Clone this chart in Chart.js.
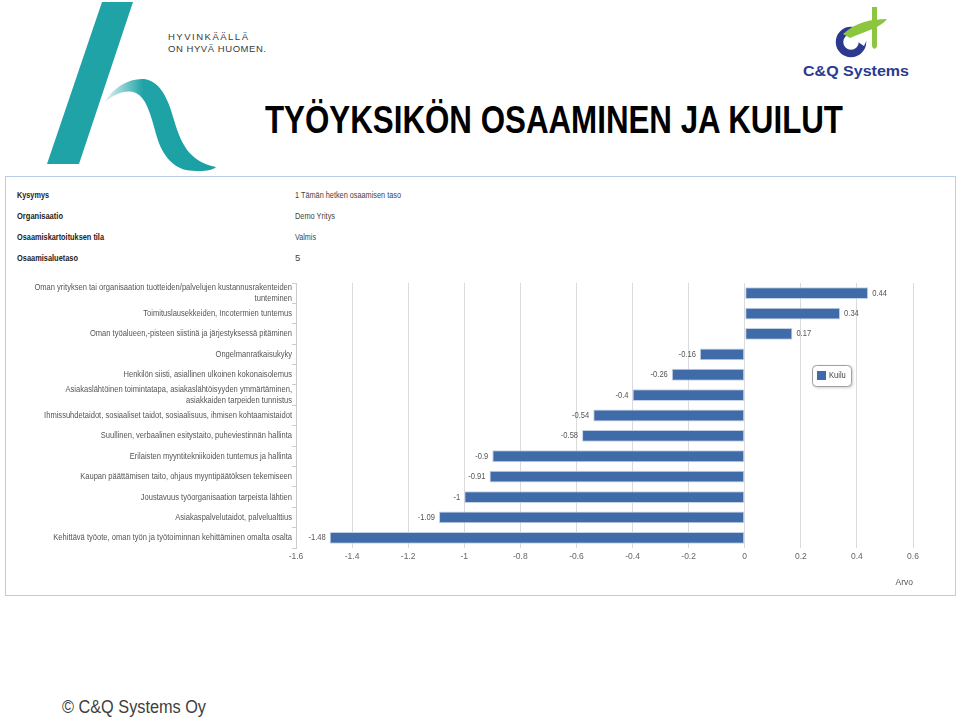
<!DOCTYPE html>
<html>
<head>
<meta charset="utf-8">
<script src="https://cdn.jsdelivr.net/npm/chart.js@4.4.1/dist/chart.umd.min.js"></script>
<style>
  body { margin: 0; width: 960px; height: 720px; background: #fff; position: relative; overflow: hidden; }
  #page { position: absolute; left: 0; top: 0; }
  #chartBox { position: absolute; left: 8px; top: 270px; width: 946px; height: 322px; }
</style>
</head>
<body>
<svg id="page" width="960" height="720" font-family="Liberation Sans, Arial, sans-serif">
  <defs>
    <linearGradient id="hook" x1="0" y1="0" x2="1" y2="0">
      <stop offset="0" stop-color="#e8f6f6"/>
      <stop offset="0.35" stop-color="#1fa3a7"/>
      <stop offset="1" stop-color="#1a9fa3"/>
    </linearGradient>
  </defs>
  <!-- kaupungin logo -->
  <polygon points="102,2 133,2 79,164 47,164" fill="#1fa3a7"/>
  <path d="M104,103 C114,86 130,78 144,79 C160,81 168,98 174,120 C182,148 192,162 216,167 C212,171 200,172 186,170 C170,166 161,152 156,134 C150,112 146,98 136,93 C126,89 114,94 104,103 Z" fill="url(#hook)"/>
  <text x="168" y="40" font-size="9.5" fill="#3a3a3a" textLength="80" lengthAdjust="spacing">HYVINKÄÄLLÄ</text>
  <text x="168" y="52" font-size="9.5" fill="#3a3a3a" textLength="98" lengthAdjust="spacing">ON HYVÄ HUOMEN.</text>

  <!-- C&Q logo -->
  <circle cx="851" cy="42" r="11.5" fill="none" stroke="#2b3a8f" stroke-width="7.5"/>
  <path d="M852,27 L870,33 L864,46 L855,40 Z" fill="#fff"/>
  <path d="M872,7 L877,7 L877,45 C877,50 872,50 872,45 Z" fill="#8cc63f"/>
  <path d="M843,34 C856,22 872,19 887,19 C882,27 866,31 850,38 Z" fill="#8cc63f"/>
  <text x="803" y="76" font-size="15" font-weight="bold" fill="#2b3a8f" textLength="106" lengthAdjust="spacingAndGlyphs">C&amp;Q Systems</text>

  <text x="265" y="133" font-size="38" font-weight="bold" fill="#000" textLength="578" lengthAdjust="spacingAndGlyphs">TYÖYKSIKÖN OSAAMINEN JA KUILUT</text>

  <!-- raportin paneeli -->
  <rect x="5.5" y="176.5" width="950" height="419" fill="#fff" stroke="#b9cde5"/>
  <g font-size="9.5" fill="#222">
    <text x="17" y="198" font-weight="bold" textLength="32" lengthAdjust="spacingAndGlyphs">Kysymys</text>
    <text x="17" y="219" font-weight="bold" textLength="46" lengthAdjust="spacingAndGlyphs">Organisaatio</text>
    <text x="17" y="240" font-weight="bold" textLength="87" lengthAdjust="spacingAndGlyphs">Osaamiskartoituksen tila</text>
    <text x="17" y="261" font-weight="bold" textLength="61" lengthAdjust="spacingAndGlyphs">Osaamisaluetaso</text>
    <text x="295" y="198" fill="#444" textLength="106" lengthAdjust="spacingAndGlyphs">1 Tämän hetken osaamisen taso</text>
    <text x="295" y="219" fill="#444" textLength="40" lengthAdjust="spacingAndGlyphs">Demo Yritys</text>
    <text x="295" y="240" fill="#444" textLength="21" lengthAdjust="spacingAndGlyphs">Valmis</text>
    <text x="295" y="261" fill="#444">5</text>
  </g>

  <text x="62" y="713" font-size="18" fill="#404040" textLength="144" lengthAdjust="spacingAndGlyphs">© C&amp;Q Systems Oy</text>
</svg>
<div id="chartBox"><canvas id="chart"></canvas></div>
<script>
const categories = [
  ["Oman yrityksen tai organisaation tuotteiden/palvelujen kustannusrakenteiden", "tunteminen"],
  "Toimituslausekkeiden, Incotermien tuntemus",
  "Oman työalueen,-pisteen siistinä ja järjestyksessä pitäminen",
  "Ongelmanratkaisukyky",
  "Henkilön siisti, asiallinen ulkoinen kokonaisolemus",
  ["Asiakaslähtöinen toimintatapa, asiakaslähtöisyyden ymmärtäminen,", "asiakkaiden tarpeiden tunnistus"],
  "Ihmissuhdetaidot, sosiaaliset taidot, sosiaalisuus, ihmisen kohtaamistaidot",
  "Suullinen, verbaalinen esitystaito, puheviestinnän hallinta",
  "Erilaisten myyntitekniikoiden tuntemus ja hallinta",
  "Kaupan päättämisen taito, ohjaus myyntipäätöksen tekemiseen",
  "Joustavuus työorganisaation tarpeista lähtien",
  "Asiakaspalvelutaidot, palvelualttius",
  "Kehittävä työote, oman työn ja työtoiminnan kehittäminen omalta osalta",
];
const kuilu = [0.44, 0.34, 0.17, -0.16, -0.26, -0.4, -0.54, -0.58, -0.9, -0.91, -1, -1.09, -1.48];
const xTicks = [-1.6, -1.4, -1.2, -1, -0.8, -0.6, -0.4, -0.2, 0, 0.2, 0.4, 0.6];
const seriesName = "Kuilu";
const axisTitle = "Arvo";

const barBlue = "#3f6ba8";
const fontFamily = "'Liberation Sans', Arial, sans-serif";
const labelFont = { family: fontFamily, size: 8.5 };

// kavennettu teksti (alkuperäinen kuva on vaakasuunnassa puristettu)
const squeeze = 0.84;
function narrowText(ctx, text, x, y, align) {
  ctx.save();
  ctx.translate(x, y);
  ctx.scale(squeeze, 1);
  ctx.textAlign = align;
  ctx.fillText(text, 0, 0);
  ctx.restore();
}

// kategoriat oikealle tasattuina y-akselin viereen
const categoryLabels = {
  id: "categoryLabels",
  afterDraw(chart) {
    const ctx = chart.ctx;
    const y = chart.scales.y;
    ctx.save();
    ctx.font = "9px " + fontFamily;
    ctx.fillStyle = "#555";
    ctx.textBaseline = "middle";
    categories.forEach((lab, i) => {
      const lines = Array.isArray(lab) ? lab : [lab];
      const cy = y.getPixelForValue(i);
      const lh = 11;
      lines.forEach((line, j) => {
        const ly = cy + (j - (lines.length - 1) / 2) * lh;
        narrowText(ctx, line, chart.chartArea.left - 4, ly, "right");
      });
    });
    ctx.restore();
  },
};

// arvot palkkien päähän
const valueLabels = {
  id: "valueLabels",
  afterDatasetsDraw(chart) {
    const ctx = chart.ctx;
    const meta = chart.getDatasetMeta(0);
    ctx.save();
    ctx.font = "9px " + fontFamily;
    ctx.fillStyle = "#555";
    ctx.textBaseline = "middle";
    meta.data.forEach((bar, i) => {
      const v = kuilu[i];
      if (v >= 0) narrowText(ctx, String(v), bar.x + 4, bar.y, "left");
      else narrowText(ctx, String(v), bar.x - 4, bar.y, "right");
    });
    ctx.restore();
  },
};

// selite kaavion sisällä
const boxLegend = {
  id: "boxLegend",
  afterDraw(chart) {
    const ctx = chart.ctx;
    const x = chart.chartArea.right - 101;
    const y = chart.chartArea.top + 82;
    ctx.save();
    ctx.shadowColor = "rgba(0,0,0,0.25)";
    ctx.shadowBlur = 3;
    ctx.shadowOffsetX = 1;
    ctx.shadowOffsetY = 1;
    ctx.fillStyle = "#fff";
    ctx.beginPath();
    ctx.roundRect(x + 0.5, y + 0.5, 39, 21, 4);
    ctx.fill();
    ctx.shadowColor = "transparent";
    ctx.strokeStyle = "#a0a0a0";
    ctx.lineWidth = 1;
    ctx.stroke();
    ctx.fillStyle = barBlue;
    ctx.fillRect(x + 5, y + 6, 9, 9);
    ctx.fillStyle = "#444";
    ctx.font = "9px " + fontFamily;
    ctx.textBaseline = "middle";
    narrowText(ctx, seriesName, x + 17, y + 11, "left");
    ctx.restore();
  },
};

new Chart(document.getElementById("chart"), {
  type: "bar",
  data: {
    labels: categories,
    datasets: [{
      label: seriesName,
      data: kuilu,
      backgroundColor: barBlue,
      borderColor: "#c4d1e4",
      borderWidth: 1,
      borderSkipped: false,
      barPercentage: 0.58,
      categoryPercentage: 1,
    }],
  },
  options: {
    indexAxis: "y",
    responsive: true,
    maintainAspectRatio: false,
    animation: false,
    layout: { padding: { left: 0, right: 41, top: 13, bottom: 0 } },
    scales: {
      x: {
        type: "linear",
        min: -1.6,
        max: 0.6,
        afterBuildTicks: (s) => { s.ticks = xTicks.map((v) => ({ value: v })); },
        afterFit: (s) => { s.height = 44; },
        ticks: { callback: (v) => String(v), font: labelFont, color: "#666", padding: 4 },
        grid: { color: "#dadada", tickLength: 0 },
        border: { display: false },
        title: { display: true, text: axisTitle, align: "end", color: "#555", font: labelFont, padding: { top: 8 } },
      },
      y: {
        afterFit: (s) => { s.width = 288; },
        ticks: { display: false, autoSkip: false },
        grid: { offset: true, drawOnChartArea: false, tickLength: 4, color: "#cccccc" },
        border: { display: true, color: "#cccccc" },
      },
    },
    plugins: { legend: { display: false }, tooltip: { enabled: false } },
  },
  plugins: [valueLabels, categoryLabels, boxLegend],
});
</script>
</body>
</html>
